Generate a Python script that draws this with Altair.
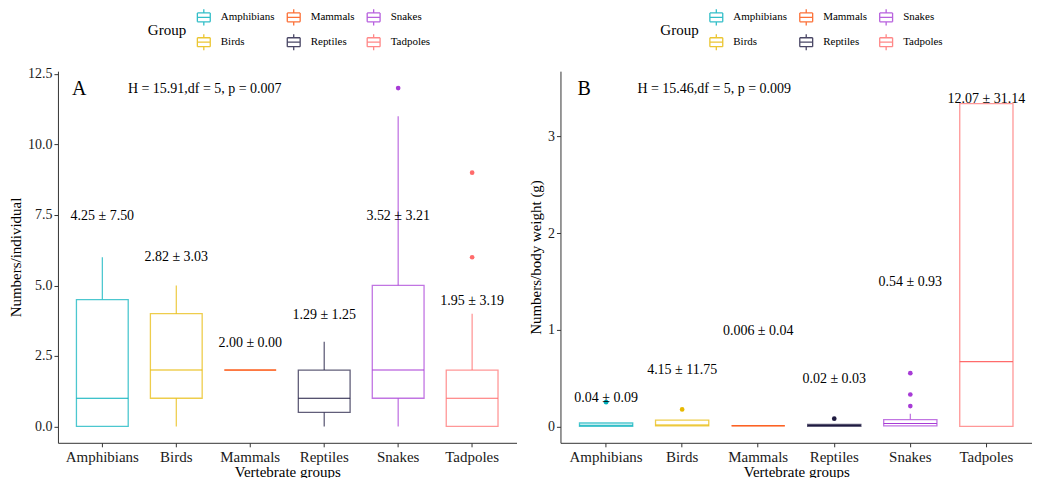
import altair as alt
import pandas as pd

# ---------------- data ----------------
groups = ["Amphibians", "Birds", "Mammals", "Reptiles", "Snakes", "Tadpoles"]
colors = ["#00AFBB", "#E7B800", "#FC4E07", "#1E1A40", "#A73BD6", "#FF6B6B"]
legend_order = ["Amphibians", "Mammals", "Snakes", "Birds", "Reptiles", "Tadpoles"]

# Panel A: Numbers/individual
a_low = [0, 0, 2, 0, 0, 0]
a_q1 = [0, 1, 2, 0.5, 1, 0]
a_med = [1, 2, 2, 1, 2, 1]
a_q3 = [4.5, 4, 2, 2, 5, 2]
a_high = [6, 5, 2, 3, 11, 4]
a_out_group = ["Snakes", "Tadpoles", "Tadpoles"]
a_out_val = [12, 9, 6]
a_labels = ["4.25 ± 7.50", "2.82 ± 3.03", "2.00 ± 0.00", "1.29 ± 1.25", "3.52 ± 3.21", "1.95 ± 3.19"]
a_label_y = [7.45, 6.0, 2.95, 3.95, 7.45, 4.45]
a_ticks = [0, 2.5, 5, 7.5, 10, 12.5]

# Panel B: Numbers/body weight (g)
b_low = [0.0, 0.005, 0.006, 0.0, 0.005, 0.0]
b_q1 = [0.0, 0.005, 0.006, 0.0, 0.005, 0.0]
b_med = [0.012, 0.015, 0.006, 0.01, 0.03, 0.67]
b_q3 = [0.035, 0.065, 0.006, 0.02, 0.07, 3.34]
b_high = [0.035, 0.065, 0.006, 0.02, 0.13, 3.34]
b_out_group = ["Amphibians", "Birds", "Reptiles", "Snakes", "Snakes", "Snakes"]
b_out_val = [0.25, 0.175, 0.08, 0.55, 0.33, 0.21]
b_labels = ["0.04 ± 0.09", "4.15 ± 11.75", "0.006 ± 0.04", "0.02 ± 0.03", "0.54 ± 0.93", "12.07 ± 31.14"]
b_label_y = [0.29, 0.58, 0.99, 0.49, 1.49, 3.39]
b_ticks = [0, 1, 2, 3]

FONT = "Liberation Serif"
# boxplot glyph made only of line segments (no fillable area)
BOX_PATH = ("M-0.8,-0.55H0.8 M0.8,-0.55V0.55 M0.8,0.55H-0.8 M-0.8,0.55V-0.55 "
            "M-0.8,0H0.8 M0,-0.55V-1 M0,0.55V1")


def panel(low, q1, med, q3, high, out_g, out_v, labels, label_y, ticks, ydomain, yfmt,
          ytitle, letter, stat, width, height, legend_x, letter_x, stat_x):
    df = pd.DataFrame({"group": groups, "low": low, "q1": q1, "med": med, "q3": q3,
                       "high": high, "label": labels, "label_y": label_y})
    out_df = pd.DataFrame({"ogroup": out_g, "val": out_v})

    cscale = alt.Scale(domain=legend_order,
                       range=[colors[groups.index(g)] for g in legend_order])
    legend = alt.Legend(orient="none", legendX=legend_x, legendY=-63, columns=3,
                        direction="horizontal", title="Group", titleOrient="left",
                        titleFont=FONT, titleFontSize=15, titleFontWeight="normal",
                        titleColor="black", titlePadding=8,
                        labelFont=FONT, labelFontSize=11, labelColor="black",
                        symbolType=BOX_PATH, symbolSize=260, symbolStrokeWidth=1.3,
                        symbolFillColor="white", symbolOpacity=0.8,
                        labelOffset=8, columnPadding=9, rowPadding=3)
    stroke_leg = alt.Stroke("group:N", scale=cscale, legend=legend)
    stroke = alt.Stroke("group:N", scale=cscale, legend=None)

    axis_x = alt.Axis(title="Vertebrate groups", labelAngle=0, labelFont=FONT,
                      labelFontSize=15, labelColor="#1a1a1a", titleFont=FONT,
                      titleFontSize=15, titleFontWeight="normal", titleColor="black",
                      titlePadding=0, labelPadding=3, tickSize=4,
                      domainColor="#333", tickColor="#333")
    xscale = alt.Scale(domain=groups, paddingInner=0, paddingOuter=0.1)
    xenc = alt.X("group:N", scale=xscale, axis=axis_x)
    yscale = alt.Scale(domain=ydomain, nice=False, zero=False)
    yaxis = alt.Axis(title=ytitle, values=ticks, format=yfmt, grid=False, labelFont=FONT,
                     labelFontSize=14, labelColor="#1a1a1a", titleFont=FONT, titleFontSize=15,
                     titleFontWeight="normal", titleColor="black", titlePadding=4,
                     labelPadding=2, tickSize=4, domainColor="#333", tickColor="#333")

    def Y(field):
        return alt.Y(field, scale=yscale, axis=yaxis)

    base = alt.Chart(df).encode(x=xenc)
    w_lo = base.mark_rule(strokeWidth=1.2, strokeOpacity=0.75).encode(
        y=Y("low:Q"), y2="q1:Q", stroke=stroke_leg)
    w_hi = base.mark_rule(strokeWidth=1.2, strokeOpacity=0.75).encode(
        y=Y("q3:Q"), y2="high:Q", stroke=stroke)
    box = base.mark_bar(width=alt.RelativeBandSize(0.7), fill="white", strokeWidth=1.3,
                        strokeOpacity=0.7).encode(y=Y("q1:Q"), y2="q3:Q", stroke=stroke)
    mline = base.mark_bar(width=alt.RelativeBandSize(0.7), fillOpacity=0,
                          strokeWidth=1.1).encode(y=Y("med:Q"), y2="med:Q", stroke=stroke)
    outs = alt.Chart(out_df).mark_circle(size=22, opacity=1).encode(
        x=alt.X("ogroup:N", scale=xscale, axis=axis_x),
        y=Y("val:Q"),
        fill=alt.Fill("ogroup:N", scale=cscale, legend=None))
    txt = base.mark_text(font=FONT, fontSize=14, color="black").encode(
        y=Y("label_y:Q"), text="label:N")
    ann_df = pd.DataFrame({"t": [letter], "s": [stat]})
    let = alt.Chart(ann_df).mark_text(font=FONT, fontSize=20, color="black",
                                      align="left").encode(
        x=alt.value(letter_x), y=alt.value(18), text="t:N")
    st = alt.Chart(ann_df).mark_text(font=FONT, fontSize=14, color="black",
                                     align="left").encode(
        x=alt.value(stat_x), y=alt.value(18), text="s:N")
    return alt.layer(w_lo, w_hi, box, mline, outs, txt, let, st).properties(
        width=width, height=height)


A = panel(a_low, a_q1, a_med, a_q3, a_high, a_out_group, a_out_val, a_labels, a_label_y,
          a_ticks, [-0.58, 12.6], ".1f", "Numbers/individual", "A",
          "H = 15.91,df = 5, p = 0.007", 459, 372, 90, 14, 70)
B = panel(b_low, b_q1, b_med, b_q3, b_high, b_out_group, b_out_val, b_labels, b_label_y,
          b_ticks, [-0.17, 3.675], "d", "Numbers/body weight (g)", "B",
          "H = 15.46,df = 5, p = 0.009", 472, 372, 100, 17, 77)

chart = alt.hconcat(A, B, spacing=12).resolve_scale(
    x="independent", y="independent", stroke="independent", fill="independent"
).resolve_legend(stroke="independent").properties(
    padding={"left": 0, "top": 0, "right": 0, "bottom": 0}, background="white"
).configure_view(strokeWidth=0, stroke="transparent")

chart.save("out.html", embed_options={"renderer": "svg", "actions": False})
